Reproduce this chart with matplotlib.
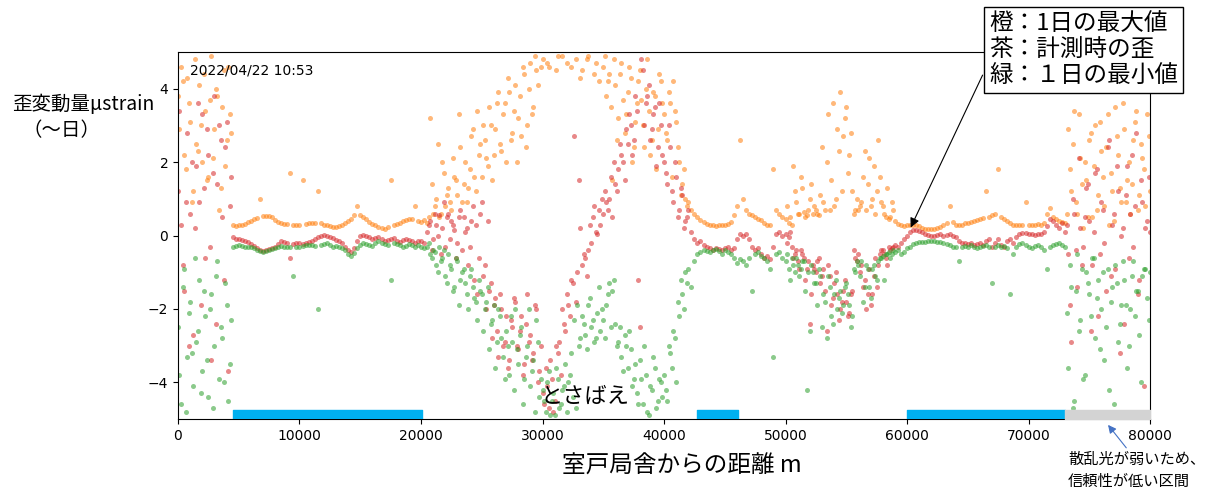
import numpy as np
import matplotlib
matplotlib.use("Agg")
import matplotlib.pyplot as plt

plt.rcParams['font.family'] = ['DejaVu Sans', 'Noto Sans CJK JP']
JP = ['Noto Sans CJK JP', 'DejaVu Sans']

# distance along the cable, one reading every 250 m (0 .. 80000 m)
step = 250
distance = np.arange(0, 80000 + step, step)

# 1日の最大値 (orange)
strain_max = [
    3.8, 4.6, 2.2, 4.3, 3.1, 1.2, 2.5, 4.1, 2.0, 3.4, 1.6, 4.9, 2.9, 3.8, 1.3, 4.5, 2.6, 3.3, 0.3, 0.25,
    0.3, 0.3, 0.32, 0.36, 0.4, 0.44, 0.48, 1.0, 0.53, 0.54, 0.52, 0.5, 0.42, 0.36, 0.34, 0.32, 0.32, 1.7, 0.3, 0.28,
    0.28, 1.5, 0.32, 0.34, 0.35, 0.34, 1.2, 0.33, 0.3, 0.28, 0.26, 0.24, 0.23, 0.25, 0.3, 0.33, 0.4, 0.46, 0.55, 0.8,
    0.55, 0.5, 0.44, 0.38, 0.32, 0.28, 0.24, 0.21, 0.19, 0.22, 1.5, 0.3, 0.32, 0.35, 0.4, 0.43, 0.45, 0.46, 0.8, 0.4,
    0.38, 0.42, 0.35, 3.2, 0.6, 1.0, 0.5, 2.0, 0.8, 1.3, 0.7, 1.6, 1.1, 2.4, 1.4, 0.9, 1.8, 2.9, 1.2, 2.2,
    1.6, 2.6, 1.9, 3.0, 2.2, 3.6, 2.5, 3.3, 2.0, 3.9, 2.8, 4.1, 3.2, 2.7, 4.4, 3.0, 4.7, 3.5, 4.5, 5.5,
    4.8, 5.5, 4.6, 5.5, 5.5, 4.9, 5.5, 5.5, 4.7, 5.5, 5.5, 4.8, 5.5, 4.5, 5.5, 4.9, 5.5, 4.4, 5.5, 5.5,
    4.6, 3.8, 4.4, 1.5, 4.1, 3.2, 4.7, 2.8, 3.9, 4.3, 2.4, 3.6, 4.5, 3.0, 4.0, 3.4, 2.6, 3.8, 2.9, 4.2,
    3.3, 2.6, 3.6, 4.2, 3.1, 2.0, 1.4, 1.0, 0.9, 0.7, 0.6, 0.5, 0.42, 0.36, 0.32, 0.3, 0.28, 0.27, 0.28, 0.3,
    0.3, 0.32, 0.38, 0.55, 0.8, 2.6, 1.0, 0.7, 0.6, 0.55, 0.5, 0.45, 0.42, 0.35, 0.3, 0.28, 1.8, 0.7, 0.6, 0.5,
    0.45, 0.35, 0.3, 1.2, 0.6, 1.6, 0.65, 0.55, 1.0, 0.6, 0.7, 0.55, 2.4, 0.7, 3.3, 1.5, 0.8, 2.9, 3.9, 2.7,
    3.5, 2.2, 1.2, 0.7, 0.7, 0.9, 2.3, 1.4, 0.8, 1.9, 1.2, 1.6, 0.8, 0.5, 0.45, 0.9, 0.4, 0.32, 0.3, 0.25,
    0.28, 0.3, 0.3, 0.28, 0.25, 0.2, 0.18, 0.17, 0.17, 0.18, 0.2, 0.22, 0.28, 0.35, 0.8, 0.38, 0.3, 0.28, 0.3, 0.33,
    0.35, 0.38, 0.4, 0.42, 0.45, 0.48, 1.2, 0.5, 0.55, 0.6, 1.8, 0.5, 0.45, 0.4, 0.35, 0.3, 0.28, 0.3, 0.28, 0.9,
    0.3, 0.28, 0.3, 0.32, 0.3, 0.35, 0.6, 0.75, 0.5, 0.45, 0.4, 0.38, 0.35, 2.9, 1.2, 3.4, 0.6, 2.1, 0.2, 1.5,
    2.6, 0.5, 3.0, 1.1, 2.3, 0.8, 3.3, 1.7, 0.4, 2.7, 1.3, 3.6, 0.9, 2.0, 1.4, 3.1, 0.7, 2.5, 1.8, 3.3,
    1.2,
]

# 計測時の歪 (red)
strain_now = [
    1.2, 0.3, -1.5, 2.8, 0.6, -2.7, 1.9, 0.9, 3.3, -0.6, 2.2, -3.4, 3.8, 1.4, 2.6, -1.2, 3.1, 0.8, -0.05, -0.1,
    -0.1, -0.12, -0.15, -0.18, -0.22, -0.28, -0.35, -0.4, -0.42, -0.4, -0.38, -0.35, -0.3, -0.22, -0.15, -0.18, -0.2, -0.6, -0.22, -0.2,
    -0.2, -0.22, -0.2, -0.18, -0.15, -0.1, -0.05, 0.0, 0.02, 0.0, -0.05, -0.08, -0.12, -0.15, -0.2, -0.3, -0.4, -0.45, -0.35, -0.15,
    -0.02, 0.02, 0.0, -0.05, -0.1, -0.08, -0.05, -0.1, -0.15, -0.12, -0.1, -0.08, -0.15, -0.18, -0.12, -0.1, -0.12, -0.15, -0.2, -0.15,
    -0.15, -0.2, 0.1, 0.4, -0.1, 0.3, 0.55, 0.2, -0.3, 0.6, 0.4, 0.15, -0.2, 0.7, 0.5, 0.2, -0.3, 0.8, 0.3, -0.6,
    0.9, -0.8, 0.4, -1.3, -1.9, -2.6, -1.6, -3.0, -2.2, -3.4, -2.5, -1.8, -3.1, -2.2, -3.5, -1.6, -2.7, -3.2, -2.0, -3.7,
    -4.3, -3.6, -4.7, -3.9, -4.5, -3.2, -3.8, -2.4, -1.6, -2.2, -1.3, -1.8, 1.5, -0.8, -0.6, -0.4, -0.2, 0.8, 0.05, 0.3,
    0.6, 0.9, 1.0, 0.5, 1.4, 1.8, 2.2, 1.5, 2.5, 3.0, 2.6, 3.4, -2.5, 4.5, 3.6, 4.1, 2.9, 3.5, 2.4, 3.0,
    2.0, 1.4, 2.4, 0.9, 1.6, 0.7, 1.1, 0.4, 0.7, 0.1, -0.1, -0.2, -0.15, -0.25, -0.3, -0.35, -0.4, -0.35, -0.38, -0.4,
    -0.35, -0.3, -0.4, -0.35, -0.1, 0.05, 0.0, 0.05, -0.1, -0.3, -0.4, -0.35, -0.5, -0.6, -0.55, -0.65, -0.3, 0.05, 0.1, 0.0,
    0.05, -0.05, -0.3, -0.5, -0.7, -0.4, -0.6, -0.9, -2.4, -0.8, -1.0, -0.6, -1.1, -1.5, -0.8, -1.9, -1.3, -1.6, -2.0, -1.5,
    -1.8, -2.1, -1.5, -0.6, -0.5, -0.8, -1.2, -1.6, -1.9, -1.1, -1.4, -0.5, -0.4, -0.6, -0.3, -0.35, -0.25, -0.3, -0.2, -0.1,
    0.0, 0.1, 0.15, 0.14, 0.12, 0.1, 0.05, 0.02, 0.0, 0.0, 0.02, 0.03, 0.0, 0.02, 0.03, 0.0, -0.05, -0.15, -0.2, -0.2,
    -0.22, -0.2, -0.25, -0.22, -0.2, -0.25, -0.15, -0.1, -0.3, -0.2, -0.1, -0.25, -0.3, -0.15, -0.1, -0.2, -0.05, 0.05, 0.08, 0.06,
    0.05, 0.04, 0.02, 0.05, 0.03, 0.1, 0.25, 0.45, 0.4, 0.3, 0.2, 0.35, 0.1, -0.5, -2.9, 0.6, -1.4, 0.2, -0.3, 1.3,
    0.4, -0.8, 1.7, -2.2, 0.9, -0.2, 2.4, -1.1, 0.6, 1.9, -3.2, 0.2, 1.1, -0.6, 2.2, 0.8, -1.6, 1.5, -4.1, 0.4,
    0.1,
]

# 1日の最小値 (green)
strain_min = [
    -2.5, -4.6, -0.9, -3.3, -1.8, -4.1, -2.9, -1.2, -3.7, -2.2, -4.4, -1.6, -3.0, -0.7, -2.5, -4.0, -1.9, -3.5, -0.3, -0.28,
    -0.27, -0.28, -0.3, -0.3, -0.32, -0.35, -0.4, -0.42, -0.45, -0.42, -0.4, -0.38, -0.35, -0.3, -0.28, -0.3, -0.3, -0.32, -1.1, -0.3,
    -0.3, -0.28, -0.25, -0.27, -0.25, -0.28, -2.0, -0.25, -0.22, -0.2, -0.25, -0.3, -0.28, -0.32, -0.35, -0.4, -0.5, -0.55, -0.48, -0.35,
    -0.25, -0.2, -0.22, -0.25, -0.28, -0.2, -0.15, -0.2, -0.22, -0.25, -1.2, -0.2, -0.22, -0.25, -0.3, -0.28, -0.22, -0.25, -0.3, -0.25,
    -0.3, -0.35, -0.3, -0.5, -0.4, -0.8, -0.3, -0.6, -1.1, -0.5, -0.9, -1.4, -0.7, -1.2, -0.9, -1.6, -1.1, -1.4, -1.8, -1.2,
    -1.6, -2.0, -1.4, -2.4, -1.9, -2.9, -2.2, -3.3, -2.6, -3.8, -2.9, -2.0, -3.5, -2.5, -3.9, -3.0, -4.1, -3.4, -2.3, -4.4,
    -4.2, -4.8, -3.7, -4.5, -4.9, -3.9, -4.6, -4.1, -4.8, -3.8, -4.4, -4.7, -3.0, -2.2, -2.7, -1.9, -2.5, -2.9, -2.1, -2.6,
    -2.3, -1.9, -1.3, -1.5, -2.4, -2.9, -3.3, -2.7, -3.6, -3.1, -3.9, -4.3, -3.4, -4.6, -3.8, -4.9, -4.2, -3.6, -4.5, -4.0,
    -3.8, -4.5, -3.2, -2.6, -4.0, -2.2, -1.6, -1.0, -0.9, -1.4, -0.7, -0.5, -0.45, -0.4, -0.42, -0.45, -0.4, -0.38, -0.42, -0.5,
    -0.4, -0.45, -0.5, -0.6, -0.75, -0.65, -0.7, -0.8, -0.6, -1.5, -0.5, -0.45, -0.55, -0.6, -0.7, -0.9, -3.3, -0.5, -0.45, -0.6,
    -0.7, -0.9, -0.6, -1.0, -0.8, -0.9, -0.7, -4.2, -2.6, -1.0, -1.3, -0.9, -2.5, -1.8, -1.1, -2.2, -1.6, -2.0, -1.5, -1.9,
    -1.3, -1.9, -2.2, -1.0, -0.8, -0.7, -1.4, -0.9, -1.7, -0.8, -1.2, -0.6, -0.55, -0.5, -0.45, -0.5, -0.45, -0.4, -0.5, -0.45,
    -0.35, -0.3, -0.22, -0.2, -0.18, -0.17, -0.17, -0.16, -0.15, -0.16, -0.17, -0.18, -0.2, -0.22, -0.25, -0.3, -0.3, -0.7, -0.3, -0.28,
    -0.3, -0.25, -0.3, -0.35, -0.3, -0.28, -0.25, -0.32, -1.3, -0.3, -0.25, -0.3, -0.28, -0.35, -1.6, -0.5, -0.3, -0.22, -0.2, -0.25,
    -0.3, -0.35, -0.28, -0.25, -0.3, -0.4, -0.9, -0.3, -0.25, -0.22, -0.2, -0.25, -0.3, -3.6, -1.4, -4.5, -0.5, -2.3, -3.9, -1.0,
    -1.6, -0.6, -2.8, -1.2, -2.0, -3.4, -0.9, -1.8, -4.6, -1.3, -2.4, -0.7, -1.9, -3.0, -1.1, -2.2, -1.5, -4.0, -0.9, -1.7,
    -1.0,
]

# extra readings half-way between the above, only in the scattered stretches
cloud_distance = np.concatenate([np.arange(125, 4500, 250), np.arange(20625, 42000, 250),
                                 np.arange(50125, 59000, 250), np.arange(73125, 80000, 250)])

cloud_max = [
    2.9, 4.2, 1.8, 3.6, 0.9, 4.8, 2.3, 3.0, 4.4, 1.5, 3.7, 2.1, 4.0, 0.7, 3.5, 1.9, 4.6, 2.8,
    0.5, 1.4, 0.8, 2.5, 0.6, 1.7, 1.1, 0.9, 2.1, 1.5, 3.3, 0.9, 2.0, 1.3, 2.7, 1.6, 3.4, 2.5,
    3.0, 2.1, 3.5, 1.5, 2.9, 3.9, 2.3, 3.6, 4.3, 2.6, 3.4, 2.0, 3.8, 4.6, 2.4, 4.0, 3.3, 4.9, 4.1, 4.6,
    5.5, 4.7, 5.5, 5.5, 4.5, 5.5, 4.9, 5.5, 5.5, 4.6, 5.5, 5.5, 4.3, 5.5, 4.8, 5.5, 5.5, 4.7, 4.2, 5.5,
    4.9, 4.2, 3.5, 4.8, 2.6, 4.4, 3.7, 3.3, 4.6, 2.0, 3.1, 4.2, 3.7, 2.4, 4.8, 2.2, 3.9, 1.8, 4.4, 3.6,
    2.8, 3.9, 1.6, 3.4, 2.4, 1.1, 1.8, 0.8,
    0.8, 0.5, 1.9, 0.9, 0.6, 1.3, 0.5, 0.7, 1.4, 0.8, 0.6, 1.1, 0.9, 2.0, 0.7, 3.6, 1.0, 2.3, 1.2, 3.2,
    1.7, 2.8, 0.6, 1.0, 0.8, 1.6, 0.7, 2.1, 1.0, 0.6, 2.6, 0.9, 0.6, 1.3, 0.5, 0.7,
    0.6, 1.8, 2.5, 0.9, 3.3, 1.4, 2.0, 0.5, 2.8, 1.9, 0.7, 3.1, 1.6, 2.4, 0.3, 1.2, 3.5, 2.2, 0.9, 2.9,
    1.5, 0.6, 2.6, 3.4, 1.1, 2.1, 0.8, 2.7,
]

cloud_now = [
    3.4, -0.8, 0.9, -3.0, 2.0, 0.2, 3.6, -1.9, 1.3, 2.9, -0.3, 1.7, -2.4, 3.0, 0.5, 2.4, -3.7, 1.6,
    0.3, -0.4, 0.6, 0.0, -0.5, 0.9, 0.5, -0.1, 0.3, -0.6, 0.5, -0.4, 0.1, -0.8, 0.4, -1.2, -1.6, 0.6,
    -1.1, -2.0, -1.5, -2.8, -1.7, -3.3, -2.0, -2.9, -3.6, -2.3, -1.7, -3.0, -2.6, -3.8, -2.4, -2.9, -3.4, -1.9, -4.0, -3.0,
    -4.6, -4.1, -3.4, -4.8, -3.0, -2.9, -2.0, -2.6, -1.9, -1.2, 2.7, -1.0, 0.2, -0.5, -1.1, 0.3, 0.5, 0.1, 0.7, 1.0,
    1.2, 0.7, 1.6, 2.0, 1.2, 2.5, 2.0, 2.9, 3.3, 2.2, 3.8, -1.2, 4.8, 3.0, 3.8, 2.6, 3.3, 1.9, 3.6, 2.2,
    1.7, 3.0, 1.2, 2.0, 0.5, 1.3, 0.2, 0.5,
    -0.2, 0.1, -0.6, -0.4, -0.9, -0.5, -1.2, -0.7, -1.6, -0.9, -0.7, -1.3, -0.9, -2.6, -1.1, -1.7, -1.0, -2.3, -1.8, -1.2,
    -2.2, -1.6, -0.4, -0.7, -1.0, -1.4, -2.0, -0.9, -1.6, -0.6, -0.8, -0.4, -0.5, -0.8, -0.4, -0.3,
    0.3, -1.9, 1.0, -0.4, 2.1, -0.8, 0.5, 1.4, -2.6, 0.1, 1.8, -0.5, 0.7, -1.5, 2.6, 0.3, -0.9, 1.2, 0.0, -2.4,
    1.9, 0.6, -0.3, 2.8, -1.2, 0.9, 0.2, 1.6,
]

cloud_min = [
    -3.8, -1.4, -4.8, -2.1, -3.2, -0.6, -2.6, -4.3, -1.5, -3.4, -2.0, -4.7, -1.1, -3.9, -2.8, -1.3, -4.5, -2.3,
    -0.2, -0.6, -0.45, -1.0, -0.7, -0.4, -1.3, -0.8, -1.5, -0.6, -1.9, -1.0, -1.3, -2.0, -0.9, -1.7, -2.3, -1.5,
    -2.6, -1.8, -3.1, -2.3, -3.6, -2.0, -2.8, -3.9, -3.0, -2.2, -4.2, -3.1, -2.7, -4.6, -3.3, -2.0, -3.7, -4.8, -2.9, -3.9,
    -4.5, -4.0, -4.9, -4.3, -3.6, -4.7, -4.2, -3.5, -4.0, -3.2, -2.3, -1.9, -2.8, -2.4, -3.1, -1.7, -2.3, -2.8, -1.4, -2.0,
    -2.8, -1.6, -2.5, -1.2, -3.0, -2.5, -3.7, -3.0, -2.6, -4.1, -3.5, -4.6, -3.9, -3.0, -4.8, -4.1, -3.3, -4.7, -3.9, -4.4,
    -4.2, -3.0, -3.6, -2.8, -1.8, -1.2, -2.0, -1.3,
    -0.5, -1.2, -0.8, -0.6, -1.1, -0.7, -1.5, -1.0, -0.8, -1.3, -1.9, -1.1, -1.6, -2.8, -1.4, -2.4, -1.2, -1.7, -2.1, -1.4,
    -1.6, -2.5, -0.9, -0.7, -1.1, -1.8, -0.8, -1.4, -0.9, -1.1, -0.7, -0.6, -1.2, -0.5, -0.6, -0.4,
    -2.1, -0.8, -4.7, -1.5, -2.6, -0.9, -3.8, -1.3, -2.2, -0.6, -1.7, -3.1, -1.0, -2.5, -4.2, -1.4, -0.8, -2.9, -1.9, -1.2,
    -3.6, -2.0, -0.7, -1.5, -2.7, -1.1, -0.9, -2.3,
]

# sections marked under the plot (start, end in m)
good_sections = [(4550, 20100), (42700, 46100), (60000, 73000)]
weak_section = (73000, 80000)

fig = plt.figure(figsize=(12.05, 4.93), dpi=100)
ax = fig.add_axes([0.1477, 0.150, 0.8067, 0.7445])

style = dict(ls='none', marker='o', ms=3.6, mew=0, alpha=0.55)
for xs, ys, c in [(distance, strain_max, 'tab:orange'), (cloud_distance, cloud_max, 'tab:orange'),
                  (distance, strain_now, 'tab:red'), (cloud_distance, cloud_now, 'tab:red'),
                  (distance, strain_min, 'tab:green'), (cloud_distance, cloud_min, 'tab:green')]:
    ax.plot(xs, ys, color=c, **style)

ax.broken_barh([(a, b - a) for a, b in good_sections], (-5, 0.25), color='#00b0f0', zorder=3)
ax.broken_barh([(weak_section[0], weak_section[1] - weak_section[0])], (-5, 0.25), color='#d3d3d3', zorder=3)

ax.set_xlim(0, 80000)
ax.set_ylim(-5, 5)
ax.set_xticks(range(0, 80001, 10000))
ax.set_yticks([-4, -2, 0, 2, 4])
ax.tick_params(labelsize=10)

ax.text(0.012, 0.95, '2022/04/22 10:53', transform=ax.transAxes, fontsize=10, va='center')
ax.text(29800, -4.38, 'とさばえ', fontsize=16, family=JP, va='center')

fig.text(12, 493 - 105, '歪変動量μstrain', transform=None, fontsize=14, family=JP, va='center')
fig.text(22, 493 - 131, '（〜日）', transform=None, fontsize=14, family=JP, va='center')
fig.text(0.566, 0.055, '室戸局舎からの距離 m', fontsize=17, family=JP, ha='center', va='center')

ax.annotate('橙：1日の最大値\n茶：計測時の歪\n緑：１日の最小値',
            xy=(60200, 0.15), xycoords='data',
            xytext=(989, 493 - 12), textcoords='figure pixels',
            fontsize=17, family=JP, va='top', ha='left', linespacing=1.2,
            bbox=dict(boxstyle='square,pad=0.2', fc='white', ec='black', lw=1),
            arrowprops=dict(arrowstyle='-|>', color='black', lw=0.8, relpos=(0, 0.35),
                            mutation_scale=14),
            zorder=10, annotation_clip=False)

ax.annotate('', xy=(76400, -5.1), xycoords='data',
            xytext=(1128, 493 - 450), textcoords='figure pixels',
            arrowprops=dict(arrowstyle='-|>', color='#4472c4', lw=0.8, mutation_scale=12),
            annotation_clip=False)
fig.text(1068, 493 - 459, '散乱光が弱いため、', transform=None, fontsize=11, family=JP, va='center')
fig.text(1068, 493 - 481, '信頼性が低い区間', transform=None, fontsize=11, family=JP, va='center')

fig.savefig('out.png', dpi=100)
